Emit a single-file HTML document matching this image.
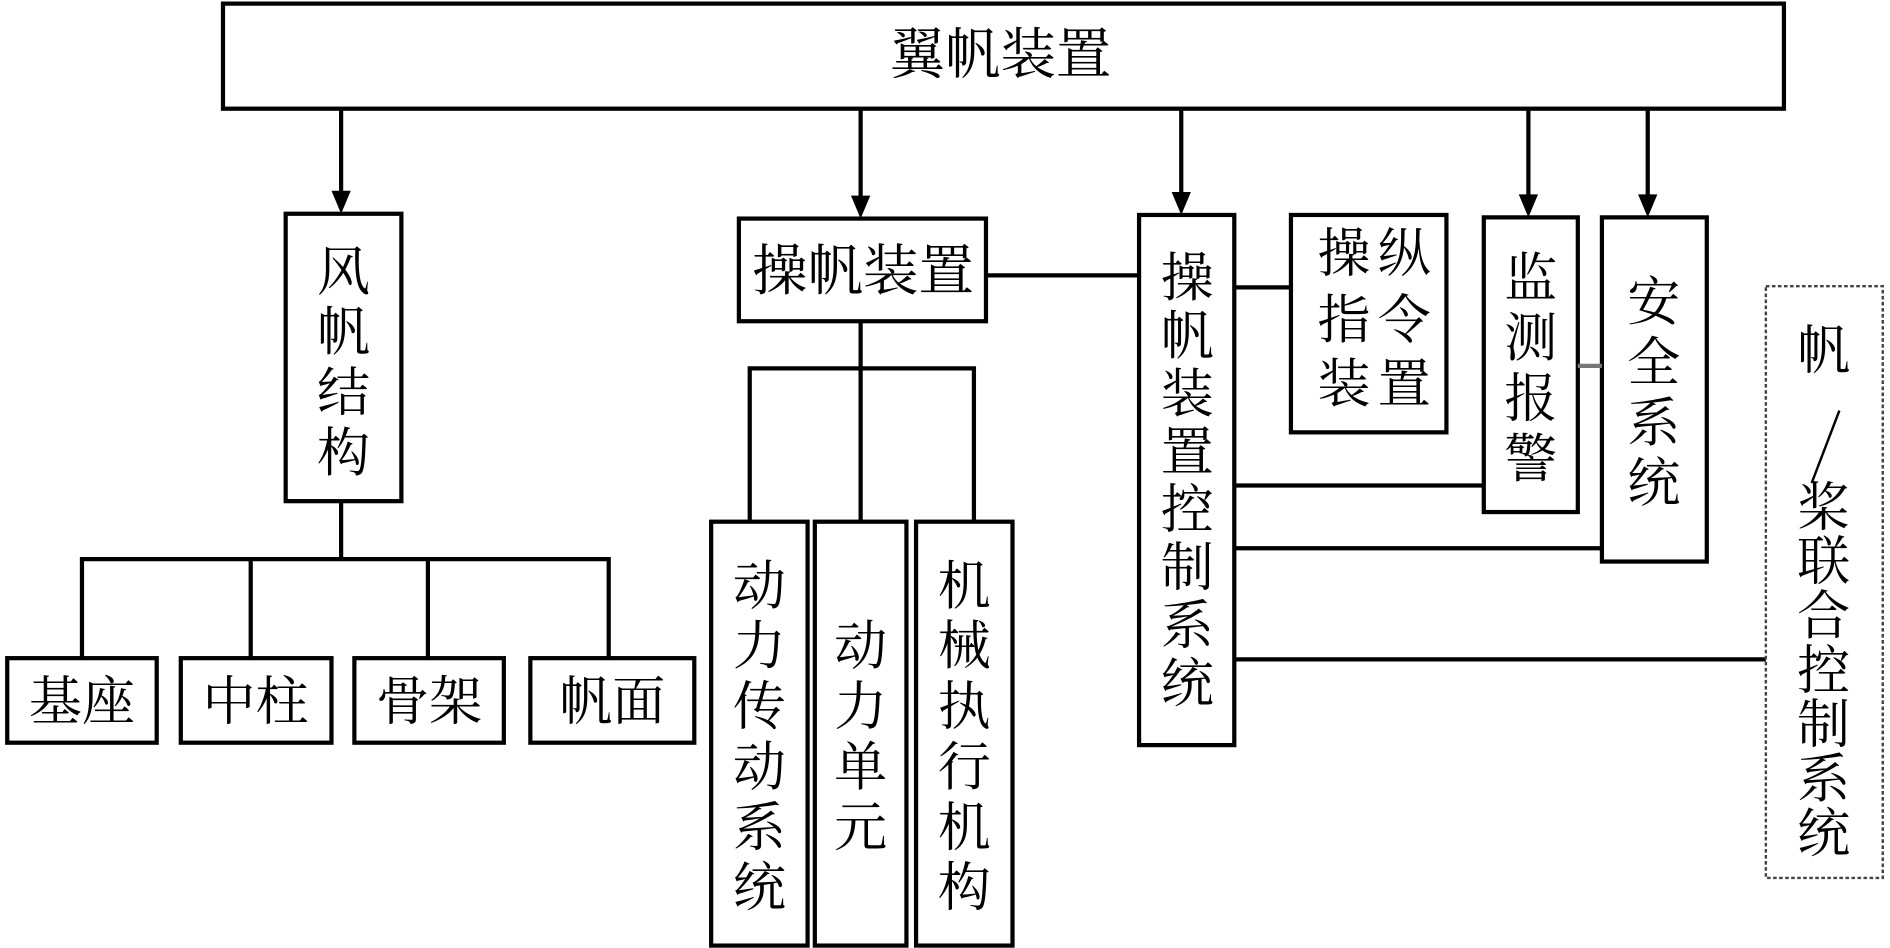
<!DOCTYPE html>
<html><head><meta charset="utf-8"><style>html,body{margin:0;padding:0;background:#fff}svg{display:block}</style></head>
<body>
<svg width="1890" height="948" viewBox="0 0 1568 785" preserveAspectRatio="none" xmlns="http://www.w3.org/2000/svg" font-family="'Liberation Serif','Noto Serif CJK SC',serif" font-size="44" text-anchor="middle">
<g fill="none" stroke="#000" stroke-width="3.5">
<rect x="185" y="3" width="1295" height="87"/>
<line x1="283" y1="90" x2="283" y2="160"/>
<line x1="714" y1="90" x2="714" y2="164"/>
<line x1="980" y1="90" x2="980" y2="161"/>
<line x1="1268" y1="90" x2="1268" y2="163"/>
<line x1="1367" y1="90" x2="1367" y2="163"/>
<rect x="237" y="177" width="96" height="238"/>
<polyline points="283,415 283,463"/>
<polyline points="68,545 68,463 505,463 505,545"/>
<line x1="208" y1="463" x2="208" y2="545"/><line x1="355" y1="463" x2="355" y2="545"/>
<rect x="6" y="545" width="124" height="70"/><rect x="150" y="545" width="125" height="70"/>
<rect x="294" y="545" width="124" height="70"/><rect x="440" y="545" width="136" height="70"/>
<rect x="613" y="181" width="205" height="85"/>
<line x1="714" y1="266" x2="714" y2="432"/>
<polyline points="622,432 622,305 808,305 808,432"/>
<rect x="590" y="432" width="80" height="351"/><rect x="676" y="432" width="76" height="351"/><rect x="760" y="432" width="80" height="351"/>
<line x1="818" y1="228" x2="945" y2="228"/>
<rect x="945" y="178" width="79" height="439"/>
<rect x="1071" y="178" width="129" height="180"/>
<line x1="1024" y1="238" x2="1071" y2="238"/>
<rect x="1231" y="180" width="78" height="244"/>
<rect x="1329" y="180" width="87" height="285"/>
<line x1="1309" y1="303" x2="1329" y2="303" stroke="#777"/>
<line x1="1024" y1="402" x2="1231" y2="402"/>
<line x1="1024" y1="454" x2="1329" y2="454"/>
<line x1="1024" y1="546" x2="1465" y2="546"/>
<rect x="1465" y="237" width="97" height="490" stroke-width="2" stroke-dasharray="3,2" stroke="#444"/>
<line x1="1526" y1="340" x2="1503" y2="400" stroke-width="2"/>
</g>
<g fill="#000">
<polygon points="275,158 291,158 283,177"/>
<polygon points="706,162 722,162 714,181"/>
<polygon points="972,159 988,159 980,178"/>
<polygon points="1260,161 1276,161 1268,180"/>
<polygon points="1359,161 1375,161 1367,180"/>
<text x="830" y="61" font-size="46">翼帆装置</text>
<text x="285" y="240">风</text><text x="285" y="290">帆</text><text x="285" y="340">结</text><text x="285" y="390">构</text>
<text x="68" y="596">基座</text><text x="212" y="596">中柱</text><text x="356" y="596">骨架</text><text x="508" y="596">帆面</text>
<text x="716" y="240" font-size="46">操帆装置</text>
<g><text x="630" y="500">动</text><text x="630" y="550">力</text><text x="630" y="600">传</text><text x="630" y="650">动</text><text x="630" y="700">系</text><text x="630" y="750">统</text></g>
<g><text x="714" y="550">动</text><text x="714" y="600">力</text><text x="714" y="650">单</text><text x="714" y="700">元</text></g>
<g><text x="800" y="500">机</text><text x="800" y="550">械</text><text x="800" y="600">执</text><text x="800" y="650">行</text><text x="800" y="700">机</text><text x="800" y="750">构</text></g>
<g><text x="985" y="245">操</text><text x="985" y="293">帆</text><text x="985" y="341">装</text><text x="985" y="389">置</text><text x="985" y="437">控</text><text x="985" y="485">制</text><text x="985" y="533">系</text><text x="985" y="581">统</text></g>
<g><text x="1115" y="225">操</text><text x="1165" y="225">纵</text><text x="1115" y="280">指</text><text x="1165" y="280">令</text><text x="1115" y="333">装</text><text x="1165" y="333">置</text></g>
<g><text x="1270" y="245">监</text><text x="1270" y="295">测</text><text x="1270" y="345">报</text><text x="1270" y="395">警</text></g>
<g><text x="1372" y="265">安</text><text x="1372" y="315">全</text><text x="1372" y="365">系</text><text x="1372" y="415">统</text></g>
<g><text x="1513" y="305">帆</text><text x="1513" y="435">桨</text><text x="1513" y="480">联</text><text x="1513" y="525">合</text><text x="1513" y="570">控</text><text x="1513" y="615">制</text><text x="1513" y="660">系</text><text x="1513" y="705">统</text></g>
</g>
</svg>
</body></html>
